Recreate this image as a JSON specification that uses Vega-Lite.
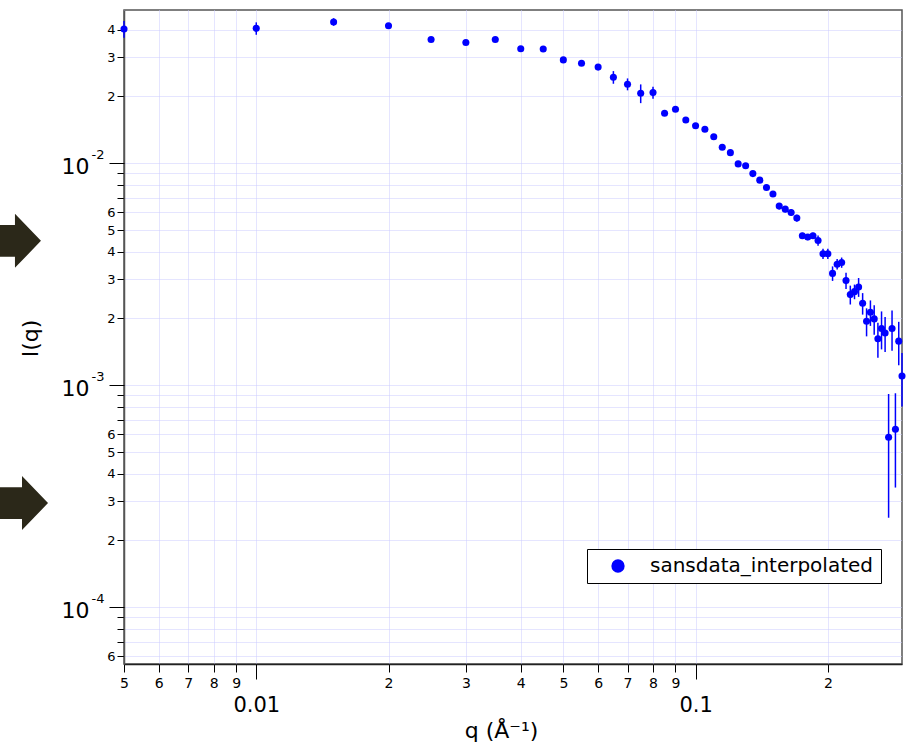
{
  "$schema": "https://vega.github.io/schema/vega-lite/v6.json",
  "width": 778,
  "height": 654,
  "autosize": {"type": "none"},
  "padding": {"left": 124, "top": 10, "right": 11, "bottom": 80},
  "background": "white",
  "config": {
    "font": "DejaVu Sans",
    "view": {"stroke": "#555555", "strokeWidth": 1.5}
  },
  "datasets": {
    "sans": [
      {"q": 0.005, "I": 0.0402, "lo": 0.0367, "hi": 0.0437},
      {"q": 0.01, "I": 0.0405, "lo": 0.0379, "hi": 0.0431},
      {"q": 0.015, "I": 0.0433, "lo": 0.0416, "hi": 0.045},
      {"q": 0.02, "I": 0.0416, "lo": 0.0404, "hi": 0.0428},
      {"q": 0.025, "I": 0.0361, "lo": 0.0354, "hi": 0.0368},
      {"q": 0.03, "I": 0.035, "lo": 0.0343, "hi": 0.0357},
      {"q": 0.035, "I": 0.0361, "lo": 0.0354, "hi": 0.0368},
      {"q": 0.04, "I": 0.0328, "lo": 0.0321, "hi": 0.0335},
      {"q": 0.045, "I": 0.0327, "lo": 0.032, "hi": 0.0334},
      {"q": 0.05, "I": 0.0292, "lo": 0.0286, "hi": 0.0298},
      {"q": 0.055, "I": 0.0282, "lo": 0.0276, "hi": 0.0288},
      {"q": 0.06, "I": 0.0271, "lo": 0.0265, "hi": 0.0277},
      {"q": 0.065, "I": 0.0244, "lo": 0.0228, "hi": 0.026},
      {"q": 0.07, "I": 0.0227, "lo": 0.0213, "hi": 0.0241},
      {"q": 0.075, "I": 0.02065, "lo": 0.01865, "hi": 0.02265},
      {"q": 0.08, "I": 0.0208, "lo": 0.0195, "hi": 0.0221},
      {"q": 0.085, "I": 0.0168, "lo": 0.0164, "hi": 0.0172},
      {"q": 0.09, "I": 0.0175, "lo": 0.0171, "hi": 0.0179},
      {"q": 0.095, "I": 0.01566, "lo": 0.01536, "hi": 0.01596},
      {"q": 0.1, "I": 0.01476, "lo": 0.01446, "hi": 0.01506},
      {"q": 0.105, "I": 0.01422, "lo": 0.01392, "hi": 0.01452},
      {"q": 0.11, "I": 0.01317, "lo": 0.01287, "hi": 0.01347},
      {"q": 0.115, "I": 0.0118, "lo": 0.0115, "hi": 0.0121},
      {"q": 0.12, "I": 0.01116, "lo": 0.01086, "hi": 0.01146},
      {"q": 0.125, "I": 0.00993, "lo": 0.00973, "hi": 0.01013},
      {"q": 0.13, "I": 0.00975, "lo": 0.00955, "hi": 0.00995},
      {"q": 0.135, "I": 0.00898, "lo": 0.00878, "hi": 0.00918},
      {"q": 0.14, "I": 0.00839, "lo": 0.00819, "hi": 0.00859},
      {"q": 0.145, "I": 0.00777, "lo": 0.00757, "hi": 0.00797},
      {"q": 0.15, "I": 0.00727, "lo": 0.00707, "hi": 0.00747},
      {"q": 0.155, "I": 0.00641, "lo": 0.00621, "hi": 0.00661},
      {"q": 0.16, "I": 0.00621, "lo": 0.00601, "hi": 0.00641},
      {"q": 0.165, "I": 0.006, "lo": 0.0058, "hi": 0.0062},
      {"q": 0.17, "I": 0.00566, "lo": 0.00546, "hi": 0.00586},
      {"q": 0.175, "I": 0.00471, "lo": 0.00456, "hi": 0.00486},
      {"q": 0.18, "I": 0.00465, "lo": 0.0045, "hi": 0.0048},
      {"q": 0.185, "I": 0.00471, "lo": 0.00456, "hi": 0.00486},
      {"q": 0.19, "I": 0.00449, "lo": 0.00425, "hi": 0.00473},
      {"q": 0.195, "I": 0.00391, "lo": 0.0037, "hi": 0.00412},
      {"q": 0.2, "I": 0.00391, "lo": 0.0037, "hi": 0.00412},
      {"q": 0.205, "I": 0.00319, "lo": 0.00295, "hi": 0.00343},
      {"q": 0.21, "I": 0.00351, "lo": 0.00332, "hi": 0.0037},
      {"q": 0.215, "I": 0.00357, "lo": 0.00338, "hi": 0.00376},
      {"q": 0.22, "I": 0.00296, "lo": 0.00271, "hi": 0.00321},
      {"q": 0.225, "I": 0.00256, "lo": 0.00231, "hi": 0.00281},
      {"q": 0.23, "I": 0.00264, "lo": 0.00244, "hi": 0.00284},
      {"q": 0.235, "I": 0.00277, "lo": 0.0025, "hi": 0.00304},
      {"q": 0.24, "I": 0.00234, "lo": 0.00208, "hi": 0.0026},
      {"q": 0.245, "I": 0.00194, "lo": 0.00166, "hi": 0.00222},
      {"q": 0.25, "I": 0.00213, "lo": 0.00185, "hi": 0.00241},
      {"q": 0.255, "I": 0.00199, "lo": 0.00169, "hi": 0.00229},
      {"q": 0.26, "I": 0.00162, "lo": 0.00133, "hi": 0.00191},
      {"q": 0.265, "I": 0.0018, "lo": 0.00145, "hi": 0.00215},
      {"q": 0.27, "I": 0.00172, "lo": 0.00141, "hi": 0.00203},
      {"q": 0.275, "I": 0.000583, "lo": 0.000253, "hi": 0.000913},
      {"q": 0.28, "I": 0.0018, "lo": 0.00143, "hi": 0.00217},
      {"q": 0.285, "I": 0.000633, "lo": 0.000346, "hi": 0.00092},
      {"q": 0.29, "I": 0.00158, "lo": 0.00123, "hi": 0.00193},
      {"q": 0.295, "I": 0.0011, "lo": 0.000803, "hi": 0.001397}
    ],
    "arrows": [
      {"q": 0.002765, "I": 0.00447},
      {"q": 0.002869, "I": 0.0002946}
    ]
  },
  "layer": [
    {
      "data": {"name": "sans"},
      "mark": {"type": "rule", "color": "#0000ff", "strokeWidth": 1.5},
      "encoding": {
        "x": {
          "field": "q", "type": "quantitative",
          "scale": {"type": "log", "domain": [0.005, 0.295], "nice": false},
          "axis": {
            "orient": "bottom",
            "title": null,
            "values": [0.005, 0.006, 0.007, 0.008, 0.009, 0.01, 0.02, 0.03, 0.04, 0.05, 0.06, 0.07, 0.08, 0.09, 0.1, 0.2],
            "labelExpr": "round(datum.value / pow(10, floor(log(datum.value) / LN10 + 1e-9))) == 1 ? '' : '' + round(datum.value / pow(10, floor(log(datum.value) / LN10 + 1e-9)))",
            "labelFontSize": 14, "labelPadding": 4, "labelColor": "#000000",
            "labelOverlap": false, "labelFlush": false, "labelBound": false,
            "tickSize": 8, "tickColor": "#000000",
            "grid": true, "gridColor": "#cacaff", "gridDash": [1, 1],
            "domain": true, "domainColor": "#222222", "domainWidth": 1.5
          }
        },
        "y": {
          "field": "lo", "type": "quantitative",
          "scale": {"type": "log", "domain": [0.0000555, 0.049], "nice": false},
          "axis": {
            "orient": "left",
            "title": null,
            "values": [0.00006, 0.00007, 0.00008, 0.00009, 0.0001, 0.0002, 0.0003, 0.0004, 0.0005, 0.0006, 0.0007, 0.0008, 0.0009, 0.001, 0.002, 0.003, 0.004, 0.005, 0.006, 0.007, 0.008, 0.009, 0.01, 0.02, 0.03, 0.04],
            "labelExpr": "(round(datum.value / pow(10, floor(log(datum.value) / LN10 + 1e-9))) >= 2 && round(datum.value / pow(10, floor(log(datum.value) / LN10 + 1e-9))) <= 6) ? '' + round(datum.value / pow(10, floor(log(datum.value) / LN10 + 1e-9))) : ''",
            "labelFontSize": 13, "labelPadding": 2, "labelColor": "#000000",
            "labelOverlap": false, "labelFlush": false, "labelBound": false,
            "tickSize": 7, "tickColor": "#000000",
            "grid": true, "gridColor": "#cacaff", "gridDash": [1, 1],
            "domain": true, "domainColor": "#555555", "domainWidth": 1.5
          }
        },
        "y2": {"field": "hi"}
      }
    },
    {
      "data": {"name": "sans"},
      "mark": {"type": "point", "filled": true, "size": 50, "opacity": 1},
      "encoding": {
        "x": {
          "field": "q", "type": "quantitative",
          "scale": {"type": "log", "domain": [0.005, 0.295], "nice": false},
          "axis": {
            "orient": "bottom",
            "values": [0.01, 0.1],
            "labelExpr": "datum.value < 0.05 ? '0.01' : '0.1'",
            "labelFontSize": 21, "labelPadding": 15, "labelColor": "#000000",
            "labelOverlap": false, "labelFlush": false, "labelBound": false,
            "tickSize": 15, "tickColor": "#000000",
            "grid": false, "domain": false,
            "title": "q (Å⁻¹)", "titleFontSize": 22, "titleFontWeight": "normal", "titleColor": "#000000",
            "titleX": 377, "titleY": 73, "titleBaseline": "alphabetic", "titleAlign": "center"
          }
        },
        "y": {
          "field": "I", "type": "quantitative",
          "scale": {"type": "log", "domain": [0.0000555, 0.049], "nice": false},
          "axis": {
            "orient": "left",
            "values": [0.0001, 0.001, 0.01],
            "labelExpr": "'10'",
            "labelFontSize": 22, "labelPadding": 20, "labelOffset": 3.5, "labelColor": "#000000",
            "labelOverlap": false, "labelFlush": false, "labelBound": false,
            "tickSize": 15, "tickColor": "#000000",
            "grid": false, "domain": false,
            "title": "I(q)", "titleFontSize": 22, "titleFontWeight": "normal", "titleColor": "#000000",
            "titleAngle": -90, "titleX": -87, "titleY": 328, "titleBaseline": "alphabetic", "titleAlign": "center"
          }
        },
        "color": {
          "datum": "sansdata_interpolated", "type": "nominal",
          "scale": {"range": ["#0000ff"]},
          "legend": {
            "title": null, "orient": "none", "legendX": 463, "legendY": 539,
            "strokeColor": "#000000", "fillColor": "#ffffff", "cornerRadius": 0,
            "padding": 7, "symbolType": "circle", "symbolSize": 177, "symbolFillColor": "#0000ff",
            "symbolStrokeWidth": 0, "symbolOffset": 14, "labelFontSize": 20, "labelOffset": 22,
            "labelColor": "#000000", "labelLimit": 400
          }
        }
      }
    },
    {
      "data": {"name": "arrows"},
      "mark": {
        "type": "point", "filled": true, "size": 3600, "opacity": 1, "clip": false,
        "color": "#2b2819",
        "shape": "M -1 -0.53 L 0.133 -0.53 L 0.133 -0.9 L 1 0 L 0.133 0.9 L 0.133 0.53 L -1 0.53 Z"
      },
      "encoding": {
        "x": {
          "field": "q", "type": "quantitative",
          "scale": {"type": "log", "domain": [0.005, 0.295], "nice": false},
          "axis": null
        },
        "y": {
          "field": "I", "type": "quantitative",
          "scale": {"type": "log", "domain": [0.0000555, 0.049], "nice": false},
          "axis": {
            "orient": "left",
            "values": [0.0001, 0.001, 0.01],
            "labelExpr": "datum.value < 0.0005 ? '-4' : (datum.value < 0.005 ? '-3' : '-2')",
            "labelFontSize": 13, "labelPadding": 5, "labelOffset": -8.5, "labelColor": "#000000",
            "labelOverlap": false, "labelFlush": false, "labelBound": false,
            "tickSize": 15, "tickOpacity": 0,
            "grid": false, "domain": false, "title": null
          }
        }
      }
    }
  ],
  "resolve": {"axis": {"x": "independent", "y": "independent"}}
}
